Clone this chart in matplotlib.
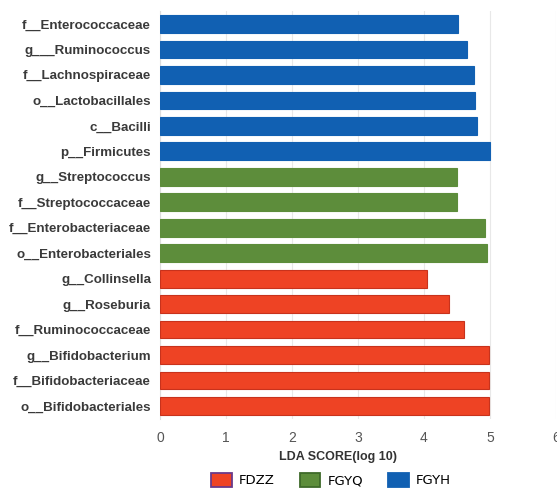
import matplotlib
matplotlib.use("Agg")
import matplotlib.pyplot as plt
from matplotlib.patches import Patch

labels = ["f__Enterococcaceae", "g___Ruminococcus", "f__Lachnospiraceae", "o__Lactobacillales",
          "c__Bacilli", "p__Firmicutes", "g__Streptococcus", "f__Streptococcaceae",
          "f__Enterobacteriaceae", "o__Enterobacteriales", "g__Collinsella", "g__Roseburia",
          "f__Ruminococcaceae", "g__Bifidobacterium", "f__Bifidobacteriaceae", "o__Bifidobacteriales"]
scores = [4.52, 4.65, 4.76, 4.78, 4.80, 5.00, 4.50, 4.50,
          4.93, 4.95, 4.04, 4.38, 4.61, 4.98, 4.98, 4.98]
groups = ["FGYH"] * 6 + ["FGYQ"] * 4 + ["FDZZ"] * 6
group_order = ["FDZZ", "FGYQ", "FGYH"]
colors = {"FDZZ": "#ee4324", "FGYQ": "#5d8d3b", "FGYH": "#1160b2"}
edges = {"FDZZ": "#c8321c", "FGYQ": "#5d8d3b", "FGYH": "#1160b2"}
legend_edges = {"FDZZ": "#6a3a8a", "FGYQ": "#3f6a2a", "FGYH": "#1160b2"}
xticks = [0, 1, 2, 3, 4, 5, 6]

fig = plt.figure(figsize=(5.57, 4.91), dpi=100)
ax = fig.add_axes([160/557, 1-418.7/491, 396/557, (418.7-11.3)/491])

n = len(labels)
ypos = list(range(n))[::-1]
for y, s, g in zip(ypos, scores, groups):
    ax.barh(y, s, height=0.7, color=colors[g], edgecolor=edges[g], linewidth=0.8, zorder=3)

ax.set_xlim(0, 6)
ax.set_ylim(-0.5, n - 0.5)
ax.set_yticks(ypos)
ax.set_yticklabels(labels, fontsize=9.6, fontweight="bold", color="#3a3a3a", family="Liberation Sans")
ax.set_xticks(xticks)
ax.set_xticklabels([str(t) for t in xticks], fontsize=10, color="#555555", family="Liberation Sans")
ax.tick_params(axis="both", length=0)
ax.tick_params(axis="x", pad=9)
ax.tick_params(axis="y", pad=6.4)
ax.grid(axis="x", color="#e8e8e8", linewidth=0.8, zorder=0)
for sp in ["top", "right", "bottom"]:
    ax.spines[sp].set_visible(False)
ax.spines["left"].set_color("#dddddd")
ax.set_xlabel("LDA SCORE(log 10)", fontsize=9, fontweight="bold", color="#333333",
              family="Liberation Sans")
ax.xaxis.set_label_coords((338 - 160) / 396, -(451 - 418.7) / 407.4)

handles = [Patch(facecolor=colors[g], edgecolor=legend_edges[g], linewidth=1.3, label=g) for g in group_order]
fig.legend(handles=handles, loc="center", bbox_to_anchor=(331/557, 1-480/491), ncol=3,
           frameon=False, handlelength=1.55, handleheight=1.35, columnspacing=1.9, handletextpad=0.55,
           prop={"family": ["Liberation Sans Narrow", "DejaVu Sans"], "size": 9.5})

fig.savefig("out.png", dpi=100)
